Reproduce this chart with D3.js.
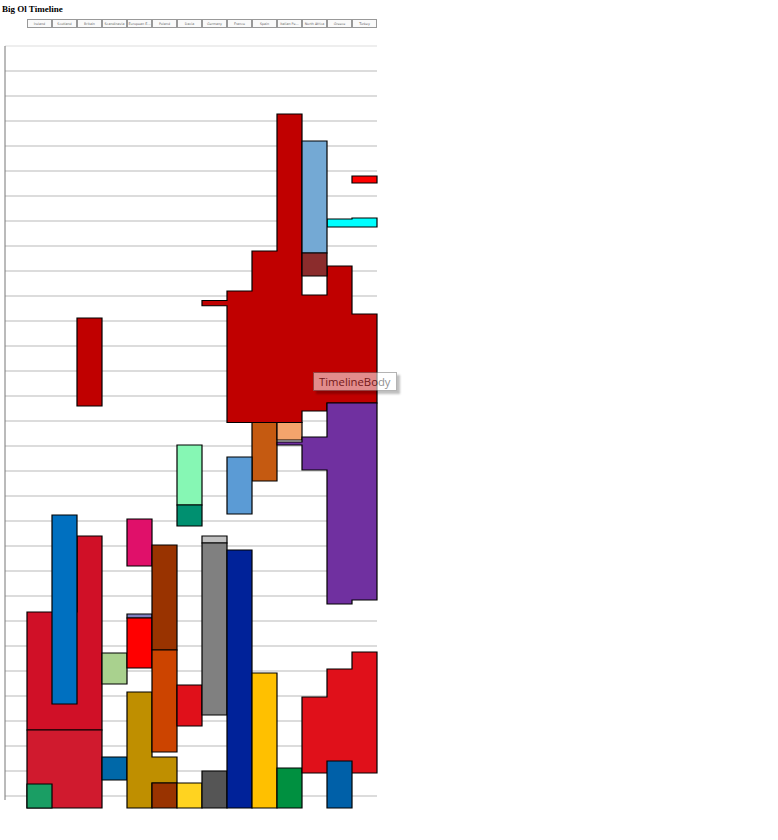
<!DOCTYPE html>
<html>
<head>
<meta charset="utf-8">
<script src="https://cdn.jsdelivr.net/npm/d3@7"></script>
<style>
  body { margin: 0; background: #fff; }
  #chart { position: relative; width: 778px; height: 840px; }
  .tip {
    position: absolute; font-family: "Open Sans", "DejaVu Sans", sans-serif;
    font-size: 11.3px; color: #333; background: #fff; border: 1px solid #777;
    padding: 0 5px; line-height: 17px; box-shadow: 3px 3px 2px rgba(0,0,0,0.45);
    opacity: 0.55; white-space: nowrap;
  }
</style>
</head>
<body>
<div id="chart"></div>
<script>
const regions = ["Ireland", "Scotland", "Britain", "Scandinavia", "European E...", "Poland", "Dacia",
  "Germany", "France", "Spain", "Italian Pe...", "North Africa", "Greece", "Turkey"];

// drawing order: later names sit on top
const entityNames = ["Roman Empire", "Roman Britain", "Lydia", "Macedon", "Carthage", "Numidia",
  "Visigoths", "Ostrogoths", "Byzantium", "Franks", "Gepids", "Avars", "England", "Alba",
  "United Kingdom", "Irish Free State", "Kalmar Union", "Sweden-Norway", "Kievan Rus", "Golden Horde",
  "Lithuania", "Russia", "Piast Poland", "Commonwealth", "Polish Republic", "Wallachia", "Romania",
  "East Francia", "Holy Roman Empire", "German Reich", "Capetian France", "Spain", "Italy",
  "Ottoman Empire", "Hellenic Greece"];

const entityColors = ["#c00000", "#c00000", "#ff0000", "#00ffff", "#74a9d4", "#8b2c2c",
  "#c55a11", "#f4a46c", "#7030a0", "#5b9bd5", "#86f7b4", "#009070", "#d01027", "#0070c0",
  "#d01a2e", "#1a9e64", "#a9d18e", "#0068a8", "#e0106a", "#8080c0",
  "#ff0000", "#bf8f00", "#993300", "#cc4400", "#993300", "#e0101a", "#ffd320",
  "#c0c0c0", "#808080", "#555555", "#002299", "#ffc000", "#009040",
  "#e0101a", "#0060a8"];

// [entity, region, start year, end year]
const spans = [
  ["Roman Empire", "Germany", -12, 9],
  ["Roman Empire", "France", -50, 476],
  ["Roman Empire", "Spain", -210, 476],
  ["Roman Empire", "Italian Pe...", -758, 476],
  ["Roman Empire", "North Africa", -34, 430],
  ["Roman Empire", "Greece", -150, 398],
  ["Roman Empire", "Turkey", 42, 398],
  ["Roman Britain", "Britain", 58, 410],
  ["Lydia", "Turkey", -510, -482],
  ["Macedon", "Greece", -338, -306],
  ["Macedon", "Turkey", -342, -306],
  ["Carthage", "North Africa", -650, -202],
  ["Numidia", "North Africa", -202, -110],
  ["Visigoths", "Spain", 476, 710],
  ["Ostrogoths", "Italian Pe...", 476, 546],
  ["Byzantium", "Italian Pe...", 554, 566],
  ["Byzantium", "North Africa", 534, 666],
  ["Byzantium", "Greece", 398, 1202],
  ["Byzantium", "Turkey", 398, 1186],
  ["Franks", "France", 614, 842],
  ["Gepids", "Dacia", 566, 806],
  ["Avars", "Dacia", 806, 890],
  ["England", "Ireland", 1234, 1706],
  ["England", "Scotland", 1234, 1706],
  ["England", "Britain", 930, 1706],
  ["Alba", "Scotland", 846, 1602],
  ["United Kingdom", "Ireland", 1706, 2018],
  ["United Kingdom", "Scotland", 1706, 2018],
  ["United Kingdom", "Britain", 1706, 2018],
  ["Irish Free State", "Ireland", 1922, 2018],
  ["Kalmar Union", "Scandinavia", 1398, 1522],
  ["Sweden-Norway", "Scandinavia", 1814, 1906],
  ["Kievan Rus", "European E...", 862, 1050],
  ["Golden Horde", "European E...", 1242, 1258],
  ["Lithuania", "European E...", 1258, 1458],
  ["Russia", "European E...", 1554, 2018],
  ["Russia", "Poland", 1814, 1918],
  ["Piast Poland", "Poland", 966, 1386],
  ["Commonwealth", "Poland", 1386, 1794],
  ["Polish Republic", "Poland", 1918, 2018],
  ["Wallachia", "Dacia", 1526, 1690],
  ["Romania", "Dacia", 1918, 2018],
  ["East Francia", "Germany", 930, 958],
  ["Holy Roman Empire", "Germany", 958, 1646],
  ["German Reich", "Germany", 1870, 2018],
  ["Capetian France", "France", 986, 2018],
  ["Spain", "Spain", 1478, 2018],
  ["Italy", "Italian Pe...", 1858, 2018],
  ["Ottoman Empire", "North Africa", 1574, 1878],
  ["Ottoman Empire", "Greece", 1462, 1878],
  ["Ottoman Empire", "Turkey", 1394, 1878],
  ["Hellenic Greece", "Greece", 1830, 2018]
];

const gridYears = d3.range(-1030, 2018, 100);

const width = 778, height = 840;

const x = d3.scaleBand().domain(regions).range([27, 377]).padding(0);
const y = d3.scaleLinear().domain([-1030, 2018]).range([46, 808]);
const color = d3.scaleOrdinal().domain(entityNames).range(entityColors);

const root = d3.select("#chart");
const svg = root.append("svg").attr("width", width).attr("height", height);

svg.append("text")
  .attr("x", 2).attr("y", 12)
  .style("font-family", "'Liberation Serif', 'DejaVu Serif', serif")
  .style("font-weight", "bold").style("font-size", "9px")
  .text("Big Ol Timeline");

// header boxes
const head = svg.append("g").selectAll("g").data(regions).enter().append("g");
head.append("rect")
  .attr("x", d => x(d) + 0.5).attr("y", 19.5)
  .attr("width", x.bandwidth() - 1).attr("height", 8)
  .attr("fill", "#fafafa").attr("stroke", "#999").attr("stroke-width", 1);
head.append("text")
  .attr("x", d => x(d) + x.bandwidth() / 2).attr("y", 25.2)
  .attr("text-anchor", "middle")
  .style("font-family", "'DejaVu Sans', sans-serif").style("font-size", "3.3px")
  .attr("fill", "#666")
  .text(d => d);

// gridlines
svg.append("g").selectAll("line").data(gridYears).enter().append("line")
  .attr("x1", 5).attr("x2", x.range()[1])
  .attr("y1", d => y(d)).attr("y2", d => y(d))
  .attr("stroke", (d, i) => i === 0 ? "#e8e8e8" : "#d0d0d0")
  .attr("stroke-width", 1.5);

svg.append("line")
  .attr("x1", 5).attr("x2", 5)
  .attr("y1", y.range()[0]).attr("y2", y.range()[1] - 8)
  .attr("stroke", "#777").attr("stroke-width", 1);

// shapes: one step polygon per entity
const line = d3.line();
const groups = d3.group(spans, d => d[0]);
const shapes = entityNames.filter(n => groups.has(n)).map(n => {
  const parts = groups.get(n).slice().sort((a, b) => regions.indexOf(a[1]) - regions.indexOf(b[1]));
  const pts = [];
  parts.forEach(p => {
    const x0 = x(p[1]), x1 = x0 + x.bandwidth();
    pts.push([x0, y(p[2])], [x1, y(p[2])]);
  });
  // bottom edge goes right to left
  parts.slice().reverse().forEach(p => {
    const x0 = x(p[1]), x1 = x0 + x.bandwidth();
    pts.push([x1, y(p[3])], [x0, y(p[3])]);
  });
  return { name: n, points: pts };
});

svg.append("g").selectAll("path").data(shapes).enter().append("path")
  .attr("d", d => line(d.points) + "Z")
  .attr("fill", d => color(d.name))
  .attr("stroke", "#000").attr("stroke-width", 1.2)
  .attr("stroke-linejoin", "miter");

root.append("div").attr("class", "tip")
  .style("left", "313px").style("top", "372px")
  .text("TimelineBody");
</script>
</body>
</html>
